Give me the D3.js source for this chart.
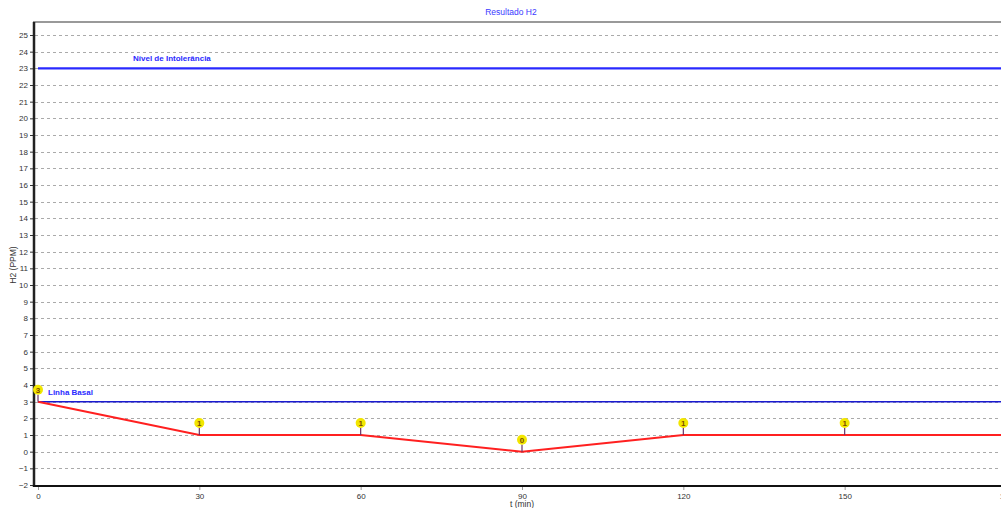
<!DOCTYPE html>
<html><head><meta charset="utf-8">
<script src="https://cdn.jsdelivr.net/npm/d3@7"></script>
<style>body{margin:0;background:#fff;}svg{display:block;font-family:"Liberation Sans",Arial,sans-serif;}</style>
</head><body>
<svg id="c" width="1001" height="508"></svg>
<script>
const times = [0, 30, 60, 90, 120, 150, 180];
const h2Values = [3, 1, 1, 0, 1, 1, 1];
const xTicks = [0, 30, 60, 90, 120, 150, 180];
const yTicks = d3.range(-2, 26);
const refNames = ["Nível de Intolerância", "Linha Basal"];
const refValues = [23, 3];
const title = "Resultado H2";
const xLabel = "t (min)";
const yLabel = "H2 (PPM)";

(function () {
const svg = d3.select("#c");
const x = d3.scaleLinear().domain([0, 180]).range([38, 1006]);
const y = d3.scaleLinear().domain([-2, 25]).range([485, 35]);
const pL = 33, pR = 1001, pT = 22, pB = 486;

// title
svg.append("text").attr("x", 511).attr("y", 15).attr("text-anchor", "middle")
  .attr("font-size", 8.5).attr("fill", "#3a3aff").text(title);

// frame top
svg.append("line").attr("x1", pL).attr("x2", pR).attr("y1", pT).attr("y2", pT)
  .attr("stroke", "#777").attr("stroke-width", 1.5);

// grid
svg.append("g").selectAll("line").data(yTicks).join("line")
  .attr("x1", pL + 2).attr("x2", pR).attr("y1", d => Math.round(y(d)) + 0.5).attr("y2", d => Math.round(y(d)) + 0.5)
  .attr("stroke", "#aaa").attr("stroke-width", 1).attr("stroke-dasharray", "3,3");

// y axis
const yAxis = svg.append("g").attr("transform", `translate(${pL},0)`)
  .call(d3.axisLeft(y).tickValues(yTicks).tickFormat(d3.format("d")).tickSize(3).tickPadding(2));
yAxis.select(".domain").remove();
yAxis.selectAll("text").attr("font-size", 8).attr("fill", "#333").attr("font-family", "Liberation Sans, Arial");
yAxis.selectAll("line").attr("stroke", "#333");
svg.append("line").attr("x1", pL + 1).attr("x2", pL + 1).attr("y1", pT).attr("y2", pB + 1)
  .attr("stroke", "#222").attr("stroke-width", 2.5);

// x axis
const xAxis = svg.append("g").attr("transform", `translate(0,${pB})`)
  .call(d3.axisBottom(x).tickValues(xTicks).tickFormat(d3.format("d")).tickSize(4).tickPadding(3));
xAxis.select(".domain").remove();
xAxis.selectAll("text").attr("font-size", 8).attr("fill", "#333").attr("font-family", "Liberation Sans, Arial");
xAxis.selectAll("line").attr("stroke", "#999");
svg.append("line").attr("x1", pL).attr("x2", pR).attr("y1", pB).attr("y2", pB)
  .attr("stroke", "#111").attr("stroke-width", 2);

// axis labels
svg.append("text").attr("x", x(90)).attr("y", 507).attr("text-anchor", "middle")
  .attr("font-size", 8.5).attr("fill", "#333").text(xLabel);
svg.append("text").attr("transform", `translate(16,265) rotate(-90)`).attr("text-anchor", "middle")
  .attr("font-size", 8.5).attr("fill", "#333").text(yLabel);

// reference lines
svg.append("line").attr("x1", x(0)).attr("x2", pR).attr("y1", y(refValues[0])).attr("y2", y(refValues[0]))
  .attr("stroke", "#2a2aff").attr("stroke-width", 2.2);
svg.append("line").attr("x1", x(0)).attr("x2", pR).attr("y1", y(refValues[1])).attr("y2", y(refValues[1]))
  .attr("stroke", "#1a1ad0").attr("stroke-width", 1.5);
svg.append("text").attr("x", 133).attr("y", y(refValues[0]) - 7).attr("font-size", 8).attr("font-weight", "bold")
  .attr("fill", "#2a2aff").text(refNames[0]);
svg.append("text").attr("x", 48).attr("y", y(refValues[1]) - 7).attr("font-size", 8).attr("font-weight", "bold")
  .attr("fill", "#2a2aff").text(refNames[1]);

// series
const data = times.map((t, i) => ({t, v: h2Values[i]}));
svg.append("path").datum(data)
  .attr("d", d3.line().x(d => x(d.t)).y(d => y(d.v)))
  .attr("fill", "none").attr("stroke", "#ff2020").attr("stroke-width", 2);

// point labels
const lab = svg.append("g").selectAll("g").data(data).join("g")
  .attr("transform", d => `translate(${x(d.t)},${y(d.v)})`);
lab.append("line").attr("x1", 0).attr("x2", 0).attr("y1", 0).attr("y2", -7)
  .attr("stroke", "#663366").attr("stroke-width", 1.2);
lab.append("circle").attr("cx", 0).attr("cy", -12).attr("r", 5).attr("fill", "#f2e600");
lab.append("text").attr("x", 0).attr("y", -9).attr("text-anchor", "middle")
  .attr("font-size", 8).attr("font-weight", "bold").attr("fill", "#7a4a00").text(d => d.v);
})();
</script>
</body></html>
